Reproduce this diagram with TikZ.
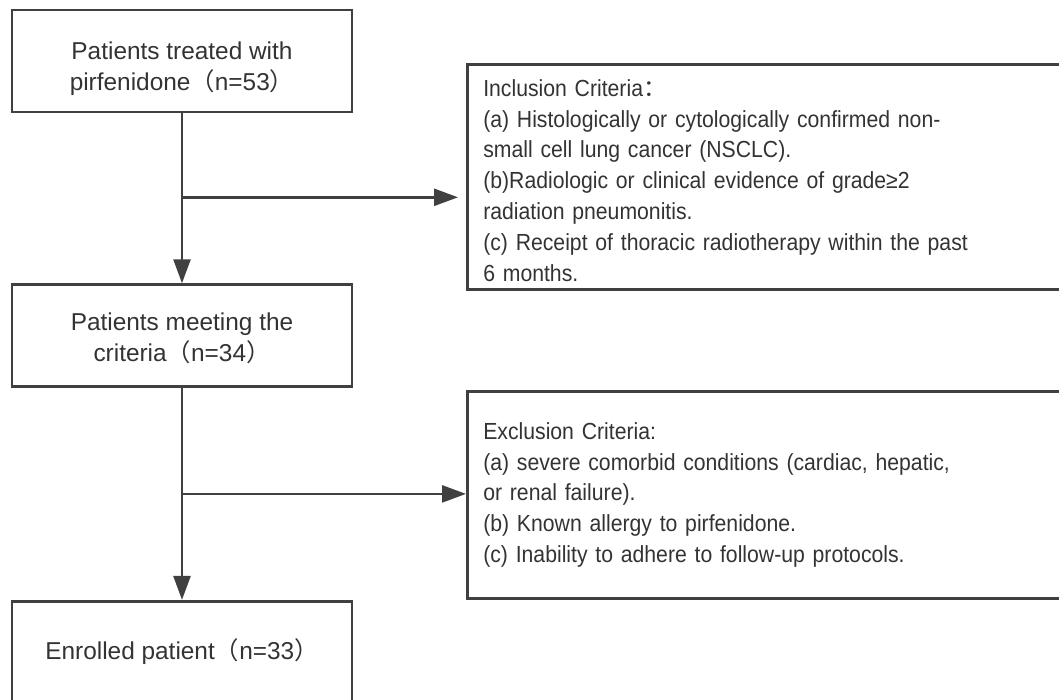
\documentclass[tikz,border=0pt]{standalone}
\usepackage{fontspec}
\setmainfont{Liberation Sans}
\newfontfamily\cjk{Noto Sans CJK SC}
\newfontfamily\critfont[FakeStretch = 0.91]{Liberation Sans}
\usetikzlibrary{arrows.meta,positioning}
\definecolor{linegray}{HTML}{404040}
\definecolor{textgray}{HTML}{333333}

\begin{document}
\begin{tikzpicture}[x = 1pt, y = -1pt, node distance = 170pt,
  every node/.style = {text = textgray},
  patbox/.style = {draw = linegray, line width = 2.6pt, minimum width = 340pt,
    minimum height = 102pt, align = center, inner sep = 0pt,
    font = \fontsize{24.4pt}{31pt}\selectfont},
  critbox/.style = {draw = linegray, line width = 2.6pt, anchor = north west,
    text width = 588pt, inner xsep = 16pt, inner ysep = 0pt, align = left,
    font = \critfont\fontsize{23.3pt}{30.8pt}\selectfont},
  flow/.style = {draw = linegray, line width = 2.5pt, -{Triangle[length = 24pt, width = 17pt]}}]
  \useasboundingbox (0,0) rectangle (1059,700);
  \clip (0,0) rectangle (1059,700);

  \node[patbox, text height = 64pt] (treated) at (182,61) {Patients treated with\\pirfenidone{\cjk （}n=53{\cjk ）}};
  \node[patbox, below = of treated, text height = 54pt] (meeting) {Patients meeting the\\criteria{\cjk （}n=34{\cjk ）}};
  \node[patbox, below = 212pt of meeting, minimum height = 100pt] (enrolled) {Enrolled patient{\cjk （}n=33{\cjk ）}};

  \node[critbox, minimum height = 225pt] (incl) at (466,63) {\rule{0pt}{24pt}Inclusion Criteria{\cjk ：}\\
    (a) Histologically or cytologically confirmed non-\\
    small cell lung cancer (NSCLC).\\
    (b)Radiologic or clinical evidence of grade≥2\\
    radiation pneumonitis.\\
    (c) Receipt of thoracic radiotherapy within the past\\
    6 months.};
  \node[critbox, minimum height = 207pt] (excl) at (466,390) {Exclusion Criteria:\\
    (a) severe comorbid conditions (cardiac, hepatic,\\
    or renal failure).\\
    (b) Known allergy to pirfenidone.\\
    (c) Inability to adhere to follow-up protocols.};

  \coordinate (split1) at ([yshift = -84pt]treated.south);
  \coordinate (split2) at ([yshift = -106pt]meeting.south);

  \draw[flow] (treated) -- (meeting);
  \draw[flow, shorten > = 8pt] (split1) -- (split1 -| incl.west);
  \draw[flow] (meeting) -- (enrolled);
  \draw[flow] (split2) -- (split2 -| excl.west);
\end{tikzpicture}
\end{document}
